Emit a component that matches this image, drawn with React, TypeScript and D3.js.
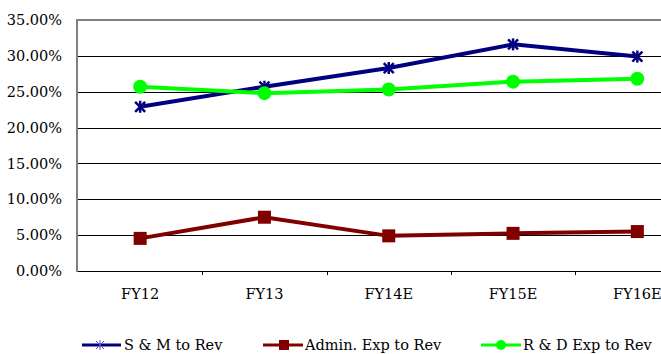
import React from "react";
import * as d3 from "d3";

const categories = ["FY12", "FY13", "FY14E", "FY15E", "FY16E"];
const smToRev = [0.229, 0.257, 0.283, 0.316, 0.299];
const adminToRev = [0.0455, 0.075, 0.049, 0.0525, 0.055];
const rdToRev = [0.257, 0.248, 0.253, 0.264, 0.268];
const yTicks = [0, 0.05, 0.1, 0.15, 0.2, 0.25, 0.3, 0.35];
const seriesNames = ["S & M to Rev", "Admin. Exp to Rev", "R & D Exp to Rev"];

const W = 661;
const H = 354;
const left = 77;
const top = 20;
const bottom = 271;
const band = 124.3;
const FONT = "'DejaVu Serif', serif";

function Star({ x, y, s, color, w }: { x: number; y: number; s: number; color: string; w: number }) {
  return (
    <g stroke={color} strokeWidth={w}>
      <line x1={x - s} y1={y - s} x2={x + s} y2={y + s} />
      <line x1={x - s} y1={y + s} x2={x + s} y2={y - s} />
      <line x1={x} y1={y - s - 1} x2={x} y2={y + s + 1} />
    </g>
  );
}

export default function App() {
  const x = d3
    .scaleBand<string>()
    .domain(categories)
    .range([left + 1, left + 1 + band * categories.length]);
  const cx = (c: string) => (x(c) as number) + x.bandwidth() / 2;
  const y = d3.scaleLinear().domain([0, 0.35]).range([bottom, top]);
  const line = d3
    .line<number>()
    .x((_, i) => cx(categories[i]))
    .y((d) => y(d));
  const fmt = (v: number) => (v * 100).toFixed(2) + "%";
  const textStyle = { fontFamily: FONT, fontSize: 14.5 } as React.CSSProperties;

  const legendY = 345;
  return (
    <div style={{ position: "fixed", left: 0, top: 0 }}>
      <svg width={W} height={H} style={{ display: "block", background: "#fff" }}>
        {yTicks.slice(1, -1).map((t) => (
          <line key={t} x1={left} x2={W} y1={Math.round(y(t)) + 0.5} y2={Math.round(y(t)) + 0.5} stroke="#000" strokeWidth={1} />
        ))}
        <line x1={left} x2={W} y1={top} y2={top} stroke="#808080" strokeWidth={2} />
        <line x1={left} x2={W} y1={bottom + 0.5} y2={bottom + 0.5} stroke="#000" strokeWidth={1} />
        <line x1={left} x2={left} y1={top - 1} y2={bottom + 1} stroke="#808080" strokeWidth={2} />
        {categories.slice(1).map((c) => (
          <line key={c} x1={Math.round(x(c) as number) + 0.5} x2={Math.round(x(c) as number) + 0.5} y1={bottom} y2={bottom + 4} stroke="#000" />
        ))}
        {yTicks.map((t) => (
          <text key={t} x={62} y={y(t)} dy="0.35em" textAnchor="end" style={textStyle} fill="#000">
            {fmt(t)}
          </text>
        ))}
        {categories.map((c) => (
          <text key={c} x={cx(c)} y={299} textAnchor="middle" style={textStyle} fill="#000">
            {c}
          </text>
        ))}

        <path d={line(adminToRev) || ""} fill="none" stroke="#800000" strokeWidth={4} />
        {adminToRev.map((v, i) => (
          <rect key={i} x={cx(categories[i]) - 6.5} y={y(v) - 6.5} width={13} height={13} fill="#800000" />
        ))}
        <path d={line(smToRev) || ""} fill="none" stroke="#000080" strokeWidth={4} />
        {smToRev.map((v, i) => (
          <Star key={i} x={cx(categories[i])} y={y(v)} s={5} color="#000080" w={2.5} />
        ))}
        <path d={line(rdToRev) || ""} fill="none" stroke="#00FF00" strokeWidth={4} />
        {rdToRev.map((v, i) => (
          <circle key={i} cx={cx(categories[i])} cy={y(v)} r={7} fill="#00FF00" />
        ))}

        {/* legend */}
        <line x1={82} x2={121} y1={legendY} y2={legendY} stroke="#000080" strokeWidth={3} />
        <Star x={100} y={legendY} s={4} color="#5050c0" w={1} />
        <text x={124} y={legendY} dy="0.35em" style={textStyle}>{seriesNames[0]}</text>

        <line x1={263} x2={303} y1={legendY} y2={legendY} stroke="#800000" strokeWidth={3} />
        <rect x={279} y={legendY - 5} width={10} height={10} fill="#800000" />
        <text x={305} y={legendY} dy="0.35em" style={textStyle}>{seriesNames[1]}</text>

        <line x1={481} x2={521} y1={legendY} y2={legendY} stroke="#00FF00" strokeWidth={3} />
        <circle cx={501} cy={legendY} r={5} fill="#00FF00" />
        <text x={523} y={legendY} dy="0.35em" style={textStyle}>{seriesNames[2]}</text>
      </svg>
    </div>
  );
}
